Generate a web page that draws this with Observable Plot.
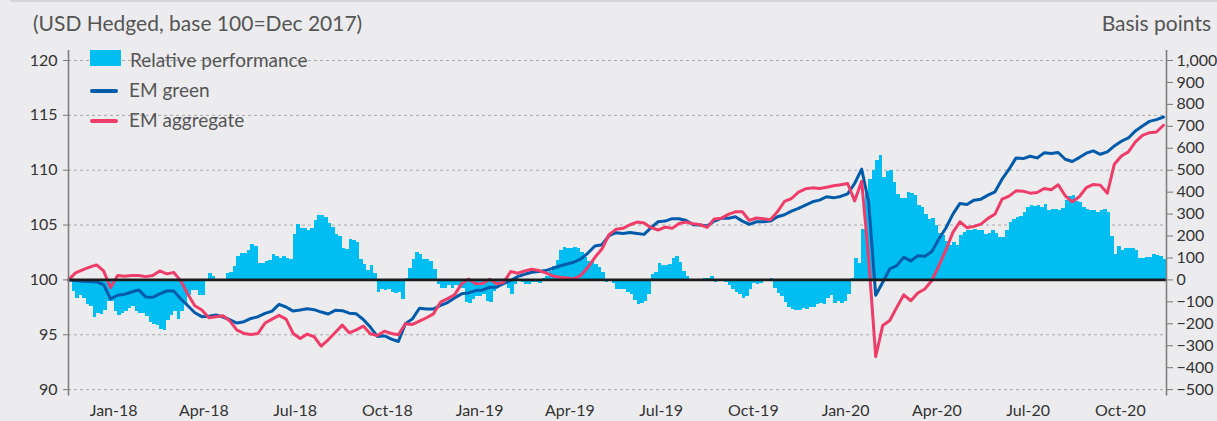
<!DOCTYPE html>
<html><head><meta charset="utf-8">
<script src="https://cdn.jsdelivr.net/npm/d3@7"></script>
<script src="https://cdn.jsdelivr.net/npm/@observablehq/plot@0.6"></script>
<style>
html,body{margin:0;padding:0;background:#ececee;}
#wrap{position:relative;width:1217px;height:421px;overflow:hidden;font-family:Lato,"Noto Sans",sans-serif;background:#ececee;}
#topline{position:absolute;left:10px;right:0;top:0;height:2px;background:#d6d6da;}
.hdr{position:absolute;top:11px;font-size:21px;color:#555;font-weight:400;line-height:24px;white-space:nowrap;}
.leg{position:absolute;font-size:19px;color:#555;font-weight:400;line-height:20px;white-space:nowrap;}
.sw{position:absolute;}
#chart{position:absolute;left:0;top:0;}
</style></head>
<body>
<div id="wrap">
  <div id="topline"></div>
  <div class="hdr" id="title" style="left:33px;"></div>
  <div class="hdr" id="rtitle" style="right:6px;"></div>
  <div id="chart"></div>
  <div class="sw" style="left:90px;top:50px;width:31px;height:16px;background:#00bdf2;"></div>
  <div class="leg" id="l0" style="left:130px;top:50px;"></div>
  <div class="sw" style="left:90px;top:89px;width:28px;height:3.5px;border-radius:2px;background:#005bab;"></div>
  <div class="leg" id="l1" style="left:129px;top:80px;"></div>
  <div class="sw" style="left:90px;top:119px;width:28px;height:3.5px;border-radius:2px;background:#ef3d6a;"></div>
  <div class="leg" id="l2" style="left:129px;top:110px;"></div>
</div>
<script>
// ---- data ----
const firstWeek = "2017-12-01";   // index lines: weekly; relative performance: twice a week
const seriesNames = ["Relative performance", "EM green", "EM aggregate"];
const titleLeft = "(USD Hedged, base 100=Dec 2017)";
const titleRight = "Basis points";

// EM green index (base 100), weekly
const emGreen = [
100.0,99.94,99.88,99.85,99.82,99.57,98.26,98.60,98.69,98.90,
99.09,98.45,98.41,98.72,98.99,98.99,98.26,97.65,97.01,96.65,
96.68,96.80,96.62,96.37,96.07,96.19,96.49,96.65,96.95,97.16,
97.77,97.53,97.16,97.26,97.38,97.29,97.07,96.89,97.23,97.20,
96.97,96.91,96.39,95.70,94.85,94.91,94.61,94.39,96.00,96.45,
97.42,97.36,97.36,97.67,97.94,98.36,98.73,98.82,99.03,99.09,
99.33,99.33,99.67,99.94,100.30,100.52,100.70,100.76,100.85,101.06,
101.27,101.45,101.61,101.91,102.45,103.09,103.21,104.03,104.30,104.24,
104.33,104.24,104.15,104.76,105.30,105.36,105.58,105.58,105.42,105.03,
105.00,104.91,105.36,105.61,105.61,105.76,105.36,105.06,105.30,105.30,
105.36,105.76,105.94,106.27,106.52,106.82,107.12,107.27,107.58,107.48,
107.61,107.85,108.79,110.10,107.06,98.60,99.79,101.00,101.30,102.06,
101.73,102.21,102.15,102.58,103.73,104.73,106.00,106.97,106.88,107.27,
107.36,107.73,108.03,109.18,110.09,111.12,111.06,111.27,111.12,111.58,
111.52,111.61,111.00,110.79,111.15,111.55,111.76,111.45,111.67,112.21,
112.64,112.94,113.58,114.03,114.45,114.61,114.85];

// EM aggregate index (base 100), weekly
const emAggregate = [
100.0,100.64,100.91,101.16,101.37,100.82,99.30,100.40,100.34,100.40,
100.40,100.30,100.40,100.82,100.55,100.67,99.91,98.69,97.65,97.26,
96.55,96.65,96.74,96.25,95.43,95.12,95.03,95.12,96.07,96.43,
96.77,96.43,95.12,94.66,95.06,94.82,93.96,94.54,95.21,95.88,
95.18,95.45,95.79,95.09,94.94,95.33,95.12,95.00,96.00,95.94,
96.24,96.55,96.91,97.97,98.30,98.64,99.64,100.09,99.64,99.67,
100.06,99.64,99.79,100.76,100.61,100.82,100.97,100.85,100.64,100.36,
100.24,100.18,100.09,100.42,101.15,102.06,102.82,104.12,104.61,104.70,
105.03,105.27,105.18,104.76,104.55,104.82,104.70,105.15,105.27,105.12,
105.03,104.79,105.55,105.61,105.97,106.21,106.21,105.42,105.64,105.58,
105.48,106.21,107.15,107.42,108.00,108.30,108.39,108.33,108.45,108.58,
108.67,108.79,107.20,109.00,101.90,93.00,95.85,96.30,97.50,98.64,
98.10,98.80,99.18,99.94,101.30,102.73,104.33,105.30,104.76,104.88,
105.09,105.61,106.00,107.36,107.64,108.12,108.09,107.91,107.97,108.33,
108.21,108.67,107.67,107.12,107.58,108.42,108.70,108.64,107.90,110.55,
111.30,111.67,112.58,113.18,113.42,113.48,114.10];

// Relative performance, basis points (right axis), twice a week
const relativePerf = [
0,-53,-84,-69,-84,-110,-122,-172,-152,-158,-139,-99,-99,-146,-160,-151,-145,-130,-122,-145,
-152,-152,-168,-194,-201,-209,-226,-229,-183,-163,-145,-180,-142,-107,-73,-50,-46,-69,-69,-3,
30,15,0,3,-5,30,34,61,107,119,122,136,160,151,76,75,84,90,117,107,
99,107,96,93,206,251,233,233,227,236,270,293,293,285,255,239,209,198,145,140,
182,180,171,95,68,45,65,27,-56,-44,-47,-42,-59,-64,-59,-89,5,53,95,123,
115,95,95,83,47,-23,-41,-41,-27,-39,-27,-41,-41,-105,-106,-89,-76,-74,-68,-98,
-102,-52,-29,-5,-11,-41,-67,-23,2,-12,-20,-23,-11,-11,-15,8,17,39,61,88,
133,147,141,141,148,142,123,100,83,85,68,56,35,-11,-3,-18,-45,-44,-42,-58,
-68,-95,-114,-106,-98,-68,23,32,73,65,64,71,98,105,80,38,17,-8,-8,-8,
0,8,8,14,-14,-5,-3,-11,-26,-44,-56,-65,-83,-76,-45,-18,-21,-15,-9,0,
8,-41,-61,-74,-102,-124,-136,-138,-141,-130,-133,-124,-126,-111,-106,-111,-86,-73,-106,-100,
-106,-98,-68,8,98,75,232,391,459,497,542,568,467,494,497,444,390,370,370,398,
395,383,340,330,300,277,280,247,212,201,174,159,171,156,201,217,223,224,232,224,
224,205,211,223,212,194,194,227,262,277,285,291,308,329,338,335,341,332,345,317,
320,321,315,326,361,380,383,358,353,332,323,317,315,309,315,323,308,200,118,151,
133,141,144,145,133,97,98,101,100,114,111,105,91];

// axes
const xTickDates = ["2018-01-15","2018-04-15","2018-07-15","2018-10-15","2019-01-15","2019-04-15","2019-07-15","2019-10-15","2020-01-15","2020-04-15","2020-07-15","2020-10-15"];
const xTickLabels = ["Jan-18","Apr-18","Jul-18","Oct-18","Jan-19","Apr-19","Jul-19","Oct-19","Jan-20","Apr-20","Jul-20","Oct-20"];
const xDomain = ["2017-12-01","2020-11-30"];
const leftTicks = [90,95,100,105,110,115,120];
const gridTicks = [90,95,105,110,115,120];
const rightTicksBp = [-500,-400,-300,-200,-100,0,100,200,300,400,500,600,700,800,900,1000];
const bpPerIndexPoint = 50; // 1,000 bp on the right axis sits level with 120 on the left axis

// ---- build tables ----
const t0 = new Date(firstWeek);
const dEnd = new Date(xDomain[1]);
const lineRows = emGreen.map((g, i) => ({date: d3.utcDay.offset(t0, 7 * i), green: g, agg: emAggregate[i]}));
const barRows = relativePerf.map((v, j) => {
  const date = d3.utcHour.offset(t0, 84 * j);
  const nxt = d3.utcHour.offset(t0, 84 * (j + 1));
  return {date, next: nxt > dEnd ? dEnd : nxt, rel: v};
});
const toIdx = bp => 100 + bp / bpPerIndexPoint;
const tickDates = xTickDates.map(s => new Date(s));
const fmtBp = d3.format(",");

const chart = Plot.plot({
  width: 1217, height: 421,
  marginLeft: 68, marginRight: 51, marginTop: 50, marginBottom: 25.5,
  style: {background: "transparent", fontFamily: "Lato, 'Noto Sans', sans-serif", fontSize: "16px", color: "#333", overflow: "visible"},
  x: {type: "utc", domain: xDomain.map(s => new Date(s)), label: null},
  y: {domain: [89.42, 120.91], label: null},
  marks: [
    Plot.ruleY(gridTicks, {stroke: "#a8a8ac", strokeWidth: 1, strokeDasharray: "3,3"}),
    Plot.rectY(barRows, {x1: "date", x2: "next", y1: () => 100, y2: d => toIdx(d.rel), fill: "#00bdf2", shapeRendering: "crispEdges"}),
    Plot.lineY(lineRows, {x: "date", y: "green", stroke: "#005bab", strokeWidth: 3, strokeLinejoin: "round"}),
    Plot.lineY(lineRows, {x: "date", y: "agg", stroke: "#ef3d6a", strokeWidth: 3, strokeLinejoin: "round"}),
    Plot.ruleY([100], {stroke: "#1c1c1c", strokeWidth: 2.6}),
    Plot.ruleX(xDomain.map(s => new Date(s)), {stroke: "#808080", strokeWidth: 1.6}),
    Plot.axisY({anchor: "left", ticks: leftTicks, tickSize: 5, tickPadding: 6, stroke: "#777", fill: "#333", fontSize: 16, label: null}),
    Plot.axisY({anchor: "right", ticks: rightTicksBp.map(toIdx), tickFormat: v => fmtBp(Math.round((v - 100) * bpPerIndexPoint)), tickSize: 6, tickPadding: 4, stroke: "#777", fill: "#333", fontSize: 16, label: null}),
    Plot.axisX({ticks: tickDates, tickFormat: d => xTickLabels[tickDates.findIndex(t => +t === +d)], tickSize: 0, tickPadding: 9, fill: "#333", fontSize: 16, label: null})
  ]
});
document.getElementById("chart").appendChild(chart);
document.getElementById("title").textContent = titleLeft;
document.getElementById("rtitle").textContent = titleRight;
["l0","l1","l2"].forEach((id, i) => document.getElementById(id).textContent = seriesNames[i]);
</script>
</body></html>
